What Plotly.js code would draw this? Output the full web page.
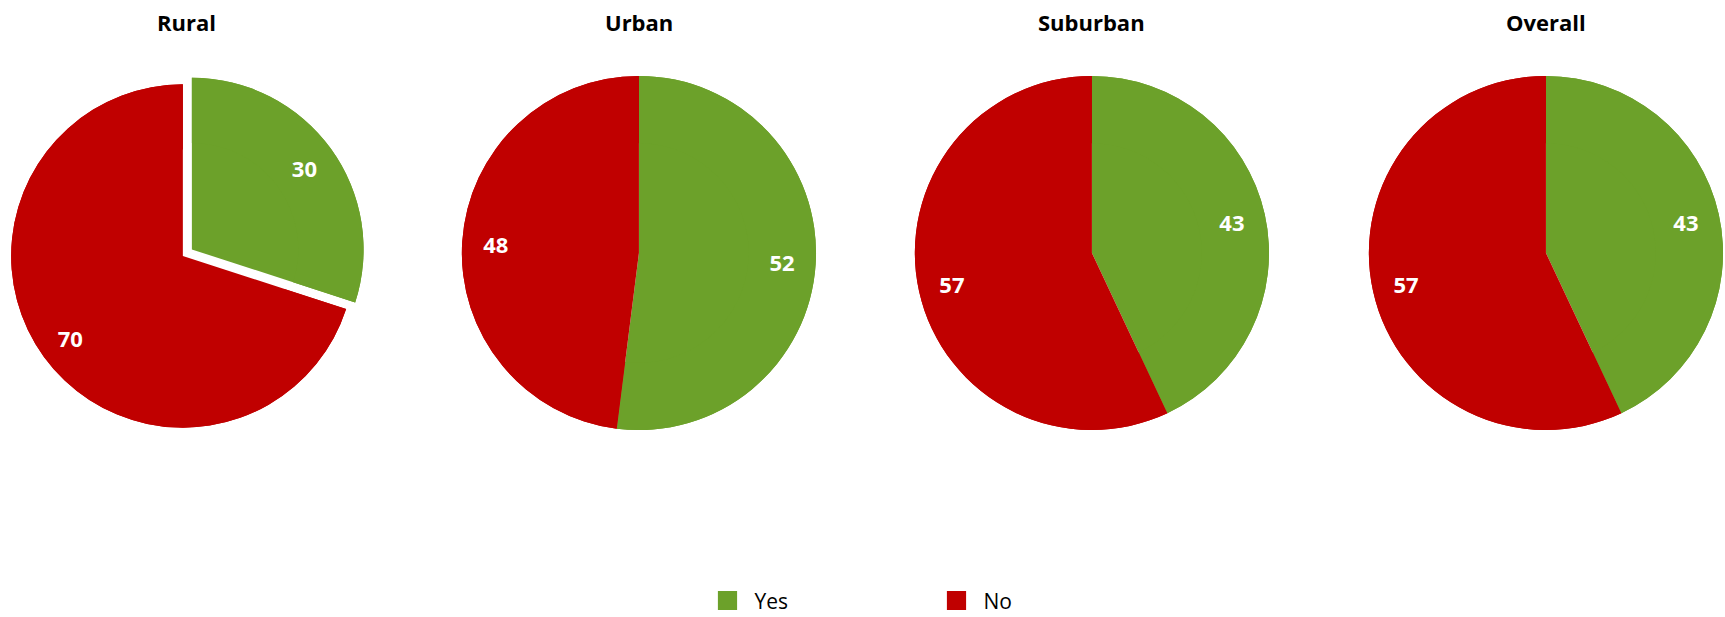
<!DOCTYPE html>
<html><head><meta charset="utf-8">
<script src="https://cdn.plot.ly/plotly-3.0.1.min.js"></script>
<style>html,body{margin:0;padding:0;background:#fff;}</style>
</head><body>
<div id="chart" style="width:1725px;height:617px;"></div>
<script>
// ---- data ----
const groups = ['Rural', 'Urban', 'Suburban', 'Overall'];
const answers = ['Yes', 'No'];
const yesValues = [30, 52, 43, 43];
const noValues = [70, 48, 57, 57];

// ---- styling / layout ----
const sliceColors = ['#6CA12A', '#C00000'];
const pullYes = [0.065, 0, 0, 0];
const domainsX = [[0, 0.212], [0.2669, 0.4739], [0.5295, 0.7365], [0.7927, 0.9997]];
const domainsY = [[0.2879, 0.8823], [0.303, 0.877], [0.303, 0.877], [0.303, 0.877]];
const FONT = '"Open Sans", Lato, sans-serif';

const traces = [];
groups.forEach((g, i) => {
  const vals = [yesValues[i], noValues[i]];
  const common = {
    type: 'pie', labels: answers, values: vals, sort: false,
    direction: 'clockwise', rotation: 0,
    marker: {colors: sliceColors, line: {width: 0}},
    pull: [pullYes[i], 0],
    domain: {x: domainsX[i], y: domainsY[i]},
    hoverinfo: 'label+value'
  };
  // full disc underneath
  traces.push(Object.assign({}, common, {textinfo: 'none', showlegend: false}));
  // ring on top carrying the data labels (places labels nearer to the rim)
  traces.push(Object.assign({}, common, {
    hole: 0.62, textinfo: 'value', textposition: 'inside',
    insidetextorientation: 'horizontal',
    textfont: {family: FONT, size: 22, color: '#ffffff', weight: 'bold'},
    showlegend: i === 0
  }));
});

const annotations = groups.map((g, i) => ({
  text: '<b>' + g + '</b>', xref: 'paper', yref: 'paper',
  x: (domainsX[i][0] + domainsX[i][1]) / 2 + (i === 0 ? 0.002 : 0), y: 0.964,
  xanchor: 'center', yanchor: 'middle', showarrow: false,
  font: {family: FONT, size: 22, color: '#000000'}
}));

const layout = {
  width: 1725, height: 617,
  margin: {l: 0, r: 0, t: 0, b: 0, autoexpand: false},
  paper_bgcolor: '#ffffff',
  showlegend: true,
  legend: {
    orientation: 'h', x: 0.4142, xanchor: 'left', y: 0.0262, yanchor: 'middle',
    font: {family: FONT, size: 21, color: '#000000'},
    entrywidth: 184, entrywidthmode: 'pixels',
    bgcolor: 'rgba(0,0,0,0)'
  },
  annotations: annotations
};

Plotly.newPlot('chart', traces, layout, {displayModeBar: false, staticPlot: true}).then(() => {
  document.querySelectorAll('#chart .legend path.legendpie').forEach(p => {
    const t = p.getAttribute('transform') || '';
    p.setAttribute('transform', t + ' translate(-7,0) scale(1.6)');
  });
});
</script>
</body></html>
